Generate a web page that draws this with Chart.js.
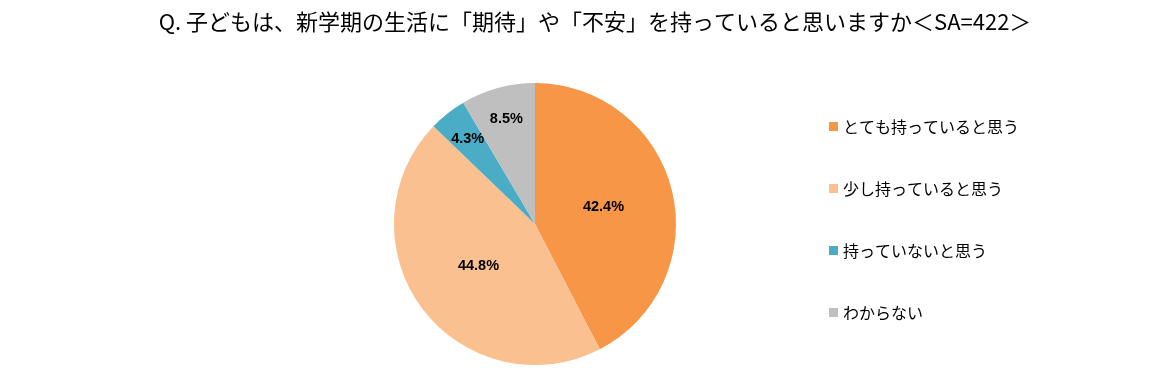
<!DOCTYPE html>
<html>
<head>
<meta charset="utf-8">
<script src="https://cdn.jsdelivr.net/npm/chart.js@4"></script>
<style>
  html, body { margin: 0; padding: 0; background: #fff; }
  #wrap { width: 1170px; height: 378px; }
</style>
</head>
<body>
<div id="wrap"><canvas id="pieChart" width="1170" height="378"></canvas></div>
<script>
const titleText = 'Q. 子どもは、新学期の生活に「期待」や「不安」を持っていると思いますか＜SA=422＞';
const labels = ['とても持っていると思う', '少し持っていると思う', '持っていないと思う', 'わからない'];
const values = [42.4, 44.8, 4.3, 8.5]; // percent
const colors = ['#F79646', '#FAC090', '#4BACC6', '#BFBFBF'];

const jpFont = '"Noto Sans CJK JP", "Noto Sans", sans-serif';

const pieCtx = document.getElementById('pieChart').getContext('2d');
const pieChart = new Chart(pieCtx, {
    type: 'pie',
    data: {
        labels: labels,
        datasets: [{
            data: values,
            backgroundColor: colors,
            borderWidth: 0
        }]
    },
    options: {
        responsive: false,
        animation: false,
        layout: {
            padding: { left: 394, right: 494, top: 83, bottom: 13 }
        },
        plugins: {
            legend: { display: false },
            tooltip: { enabled: false },
            title: { display: false }
        }
    },
    plugins: [
        {
            id: 'textBits',
            afterDraw(chart) {
                const { ctx } = chart;
                const meta = chart.getDatasetMeta(0);
                ctx.save();

                // title
                ctx.fillStyle = '#000';
                ctx.font = '22px ' + jpFont;
                ctx.textAlign = 'center';
                ctx.textBaseline = 'middle';
                ctx.fillText(titleText, 595, 22);

                // slice labels (small slices pushed further out)
                ctx.font = 'bold 14.5px "Liberation Sans", Arial, sans-serif';
                meta.data.forEach((arc, i) => {
                    const mid = (arc.startAngle + arc.endAngle) / 2;
                    const f = values[i] < 10 ? 0.77 : 0.5;
                    const r = arc.outerRadius * f;
                    const x = arc.x + r * Math.cos(mid);
                    const y = arc.y + r * Math.sin(mid);
                    ctx.fillText(values[i].toFixed(1) + '%', x, y);
                });

                // legend
                ctx.font = '16px ' + jpFont;
                ctx.textAlign = 'left';
                labels.forEach((lab, i) => {
                    const y = 127 + i * 62;
                    ctx.fillStyle = colors[i];
                    ctx.fillRect(829, y - 5, 9, 9);
                    ctx.fillStyle = '#000';
                    ctx.fillText(lab, 843, y);
                });
                ctx.restore();
            }
        }
    ]
});
</script>
</body>
</html>
